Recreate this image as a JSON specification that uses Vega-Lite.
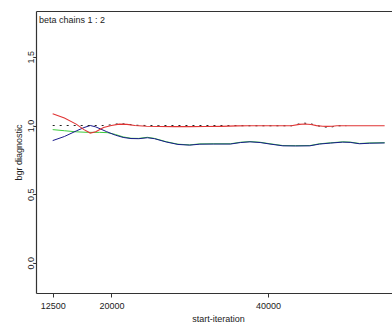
{
  "$schema": "https://vega.github.io/schema/vega-lite/v6.json",
  "width": 356,
  "height": 282,
  "autosize": "none",
  "padding": {"left": 36, "top": 11, "right": 0, "bottom": 35},
  "background": "white",
  "config": {
    "view": {"stroke": null},
    "font": "Liberation Sans",
    "axis": {"grid": false, "domainColor": "#333", "tickColor": "#333", "labelColor": "#222", "titleColor": "#222", "labelFont": "Liberation Sans", "titleFont": "Liberation Sans", "labelFontSize": 9, "titleFontSize": 9, "titleFontWeight": "normal", "domainWidth": 1.2}
  },
  "title": {"text": "beta chains 1 : 2", "anchor": "start", "frame": "group", "orient": "top", "offset": 0, "baseline": "top", "dx": 3, "dy": 14, "fontSize": 9, "fontWeight": "normal", "color": "#222", "font": "Liberation Sans"},
  "datasets": {
    "red": [
      {"iter": 12500, "val": 1.085}, {"iter": 14000, "val": 1.055}, {"iter": 15500, "val": 1.01}, {"iter": 16500, "val": 0.97},
      {"iter": 17300, "val": 0.945}, {"iter": 18000, "val": 0.955}, {"iter": 19000, "val": 0.985}, {"iter": 20000, "val": 1.0},
      {"iter": 21000, "val": 1.01}, {"iter": 22000, "val": 1.008}, {"iter": 23000, "val": 1.0}, {"iter": 24500, "val": 0.995},
      {"iter": 26000, "val": 0.993}, {"iter": 28000, "val": 0.992}, {"iter": 30000, "val": 0.992}, {"iter": 32000, "val": 0.993},
      {"iter": 34000, "val": 0.994}, {"iter": 36000, "val": 0.997}, {"iter": 37500, "val": 0.998}, {"iter": 40000, "val": 0.998},
      {"iter": 43000, "val": 0.998}, {"iter": 44000, "val": 1.008}, {"iter": 44700, "val": 1.011}, {"iter": 45500, "val": 1.007},
      {"iter": 46200, "val": 0.999}, {"iter": 47000, "val": 0.995}, {"iter": 47500, "val": 0.994}, {"iter": 48200, "val": 0.995},
      {"iter": 48800, "val": 0.998}, {"iter": 50000, "val": 0.998}, {"iter": 52000, "val": 0.998}, {"iter": 54900, "val": 0.998}
    ],
    "dashed": [
      {"iter": 12500, "val": 1.0}, {"iter": 15000, "val": 1.0}, {"iter": 17300, "val": 1.0}, {"iter": 19000, "val": 1.0},
      {"iter": 20000, "val": 1.005}, {"iter": 21000, "val": 1.014}, {"iter": 22000, "val": 1.01}, {"iter": 23000, "val": 1.002},
      {"iter": 24500, "val": 1.0}, {"iter": 26000, "val": 1.0}, {"iter": 30000, "val": 1.0}, {"iter": 34000, "val": 1.0},
      {"iter": 36000, "val": 0.999}, {"iter": 37500, "val": 0.998}, {"iter": 43000, "val": 0.998}, {"iter": 44000, "val": 1.012},
      {"iter": 44700, "val": 1.017}, {"iter": 45500, "val": 1.012}, {"iter": 46200, "val": 1.0}, {"iter": 47000, "val": 0.99},
      {"iter": 47500, "val": 0.988}, {"iter": 48200, "val": 0.99}, {"iter": 48800, "val": 0.998}, {"iter": 50000, "val": 0.998}
    ],
    "green": [
      {"iter": 12500, "val": 0.97}, {"iter": 14000, "val": 0.962}, {"iter": 15500, "val": 0.954}, {"iter": 17000, "val": 0.95},
      {"iter": 18500, "val": 0.95}, {"iter": 19500, "val": 0.948}, {"iter": 20500, "val": 0.935}, {"iter": 21500, "val": 0.917},
      {"iter": 22500, "val": 0.907}, {"iter": 23500, "val": 0.906}, {"iter": 24600, "val": 0.914}, {"iter": 25500, "val": 0.906},
      {"iter": 27000, "val": 0.882}, {"iter": 28500, "val": 0.864}, {"iter": 30000, "val": 0.859}, {"iter": 31300, "val": 0.866},
      {"iter": 33000, "val": 0.867}, {"iter": 35200, "val": 0.867}, {"iter": 36500, "val": 0.878}, {"iter": 37700, "val": 0.883},
      {"iter": 39000, "val": 0.878}, {"iter": 40250, "val": 0.867}, {"iter": 41900, "val": 0.854}, {"iter": 43500, "val": 0.853},
      {"iter": 45350, "val": 0.854}, {"iter": 46600, "val": 0.867}, {"iter": 48000, "val": 0.874}, {"iter": 49550, "val": 0.881},
      {"iter": 50500, "val": 0.879}, {"iter": 51700, "val": 0.869}, {"iter": 53000, "val": 0.873}, {"iter": 54900, "val": 0.875}
    ],
    "blue": [
      {"iter": 12500, "val": 0.89}, {"iter": 14000, "val": 0.92}, {"iter": 15500, "val": 0.96}, {"iter": 16500, "val": 0.985},
      {"iter": 17300, "val": 1.0}, {"iter": 18000, "val": 0.99}, {"iter": 19400, "val": 0.955}, {"iter": 20500, "val": 0.93},
      {"iter": 21500, "val": 0.913}, {"iter": 22500, "val": 0.905}, {"iter": 23500, "val": 0.904}, {"iter": 24600, "val": 0.911},
      {"iter": 25500, "val": 0.904}, {"iter": 27000, "val": 0.88}, {"iter": 28500, "val": 0.862}, {"iter": 30000, "val": 0.857},
      {"iter": 31300, "val": 0.864}, {"iter": 33000, "val": 0.865}, {"iter": 35200, "val": 0.865}, {"iter": 36500, "val": 0.876},
      {"iter": 37700, "val": 0.881}, {"iter": 39000, "val": 0.876}, {"iter": 40250, "val": 0.865}, {"iter": 41900, "val": 0.852},
      {"iter": 43500, "val": 0.851}, {"iter": 45350, "val": 0.852}, {"iter": 46600, "val": 0.865}, {"iter": 48000, "val": 0.872},
      {"iter": 49550, "val": 0.879}, {"iter": 50500, "val": 0.877}, {"iter": 51700, "val": 0.867}, {"iter": 53000, "val": 0.871},
      {"iter": 54900, "val": 0.873}
    ]
  },
  "resolve": {"axis": {"x": "independent", "y": "independent"}},
  "layer": [
    {
      "data": {"name": "green"},
      "mark": {"type": "line", "color": "#3ccc3c", "strokeWidth": 1},
      "encoding": {
        "x": {"field": "iter", "type": "quantitative", "scale": {"domain": [10370, 55840], "nice": false, "zero": false},
              "axis": {"orient": "bottom", "values": [12500, 20000, 40000], "format": "d", "title": "start-iteration", "tickSize": 4, "labelPadding": 4, "titlePadding": 4, "titleX": 182}},
        "y": {"field": "val", "type": "quantitative", "scale": {"domain": [-0.22, 1.834], "nice": false, "zero": false},
              "axis": {"orient": "left", "values": [0, 0.5, 1, 1.5], "format": ".1f", "title": "bgr diagnostic", "labelAngle": -90, "labelAlign": "center", "labelBaseline": "alphabetic", "tickSize": 3, "labelPadding": 0, "titlePadding": 3}}
      }
    },
    {
      "data": {"name": "blue"},
      "mark": {"type": "line", "color": "#1a1a8c", "strokeWidth": 1},
      "encoding": {
        "x": {"field": "iter", "type": "quantitative", "axis": {"orient": "top", "labels": false, "ticks": false, "title": null, "domain": true}},
        "y": {"field": "val", "type": "quantitative", "axis": {"orient": "right", "labels": false, "ticks": false, "title": null, "domain": false}}
      }
    },
    {
      "data": {"name": "dashed"},
      "mark": {"type": "line", "color": "#222", "strokeWidth": 1, "strokeDash": [2, 5]},
      "encoding": {
        "x": {"field": "iter", "type": "quantitative", "axis": null},
        "y": {"field": "val", "type": "quantitative", "axis": null}
      }
    },
    {
      "data": {"name": "red"},
      "mark": {"type": "line", "color": "#e03434", "strokeWidth": 1.1},
      "encoding": {
        "x": {"field": "iter", "type": "quantitative", "axis": null},
        "y": {"field": "val", "type": "quantitative", "axis": null}
      }
    }
  ]
}
